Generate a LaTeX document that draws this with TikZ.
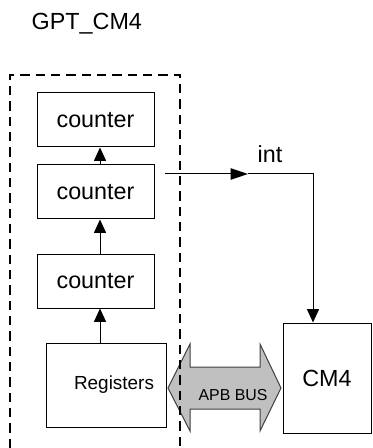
\documentclass[tikz,border=0pt]{standalone}
\usepackage{fontspec}
\setmainfont{Liberation Sans}
\usetikzlibrary{arrows.meta,calc}
\definecolor{BusGray}{HTML}{C0C0C0}
\tikzset{>={Triangle[length=10pt,width=9pt]},
 every node/.style={font=\fontsize{17.5}{21}\selectfont},
 blk/.style={draw,line width=0.75pt,inner sep=0pt,align=center},
 wire/.style={draw,line width=0.75pt,->}}
\begin{document}
\begin{tikzpicture}[x=0.75pt,y=-0.75pt,
 cbox/.style={blk,minimum width=87.75pt,minimum height=40.5pt},
 outline/.style={draw,line width=1.5pt,dash pattern=on 7pt off 4.5pt},
 bus/.style={draw=black!75,fill=BusGray,line width=0.75pt}]
\useasboundingbox (0,0) rectangle (372,448);
\node[anchor=base west] (title) at (27,30) {GPT\_CM4};
% Counter chain stacked above the register block.
\foreach \n/\yy in {1/120,2/192,3/281}
 {\node[cbox] (c\n) at (95.5,\yy) {counter};}
\node[blk,minimum width=90pt,minimum height=63pt,text width=72pt,align=right,
 font=\fontsize{14.2}{17}\selectfont] (reg) at (106,385) {\raisebox{3pt}{Registers}};
\node[blk,minimum width=66pt,minimum height=82.5pt] (cm4) at (327,378) {CM4};
% Upward arrows share one column, slightly right of the box centres.
\coordinate (col) at (100,0);
\foreach \a/\b in {c2/c1,c3/c2,reg/c3}
 {\draw[wire] (\a.north -| col) -- (\b.south -| col);}
% Interrupt line leaves the dashed block and drops into the core.
\coordinate (intsrc) at (165,174);
\coordinate (intmid) at (248,174);
\coordinate (tapx) at (313,0);
\draw[wire,-{Triangle[length=13pt,width=8.5pt]}] (intsrc) -- (intmid);
\draw[wire] (intmid) -| (cm4.north -| tapx);
\node[anchor=base west] (intlbl) at (253,163) {int};
% Two-headed bus arrow between registers and core.
\draw[bus] (168,388) -- (190,344) -- (190,367) -- (260,367) -- (260,344)
 -- (281,388) -- (260,431) -- (260,409) -- (190,409) -- (190,431) -- cycle;
\node[font=\fontsize{11.9}{14}\selectfont] (buslbl) at (233,395) {APB BUS};
% The module boundary is open at the bottom.
\draw[outline] (10,448) -- (10,75) -- (180,75) -- (180,448);
\end{tikzpicture}
\end{document}
